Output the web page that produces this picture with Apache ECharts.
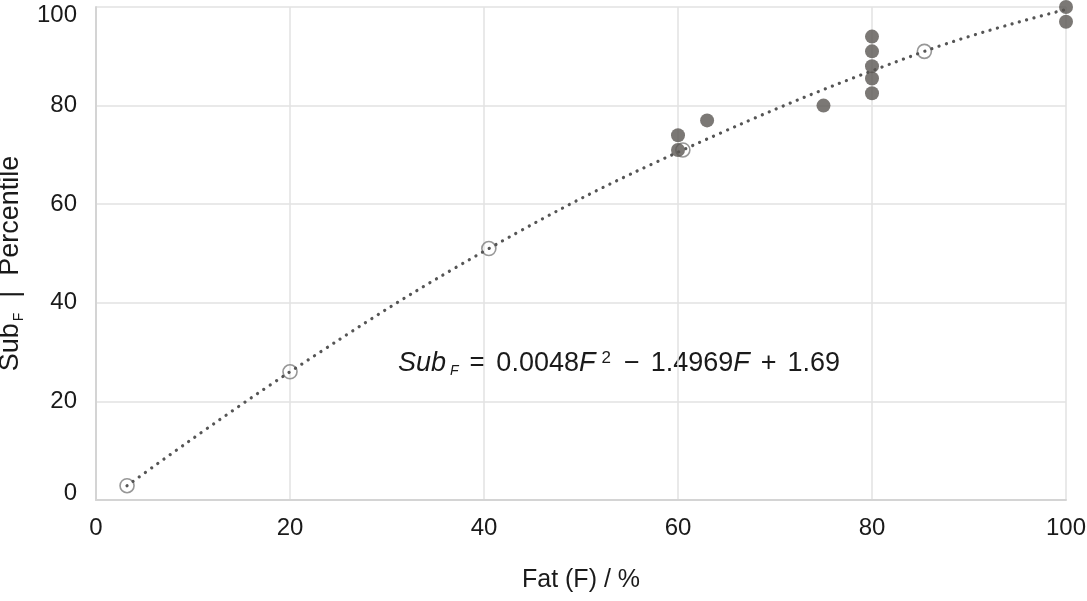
<!DOCTYPE html>
<html>
<head>
<meta charset="utf-8">
<script src="https://cdn.jsdelivr.net/npm/echarts@6/dist/echarts.min.js"></script>
<style>
  html, body { margin: 0; padding: 0; background: #fff; }
  #chart { width: 1087px; height: 601px; }
</style>
</head>
<body>
<div id="chart"></div>
<script>
// measured points (filled)
const obsFat = [60, 60, 63, 75, 80, 80, 80, 80, 80, 100, 100];
const obsSub = [74, 71, 77, 80, 94, 91, 88, 85.5, 82.5, 100, 97];

// fitted points (open circles)
const fitFat = [3.2, 20, 40.5, 60.5, 85.4];
const fitSub = [2.9, 26, 51, 71, 91];

// dotted trend line
const trendFat = [3.2, 20, 40.5, 60.5, 85.4, 100];
const trendSub = [2.9, 26, 51, 71, 91, 99.5];

const xTicks = [0, 20, 40, 60, 80, 100];
const yTicks = [0, 20, 40, 60, 80, 100];

const FONT = "'Liberation Sans', Arial, Helvetica, sans-serif";
const INK = '#1a1a1a';
const pairs = (xs, ys) => xs.map((x, i) => [x, ys[i]]);

const chart = echarts.init(document.getElementById('chart'));

const option = {
  animation: false,
  backgroundColor: '#fff',
  textStyle: { fontFamily: FONT },
  grid: { left: 96, right: 21, top: 7, bottom: 101, outerBoundsMode: 'none', containLabel: false },
  xAxis: {
    type: 'value',
    min: xTicks[0],
    max: xTicks[xTicks.length - 1],
    interval: xTicks[1] - xTicks[0],
    name: 'Fat (F) / %',
    nameLocation: 'middle',
    nameGap: 68,
    nameTextStyle: { fontSize: 25, color: INK, fontFamily: FONT },
    axisLine: { show: true, lineStyle: { color: '#d4d4d4', width: 2 } },
    axisTick: { show: false },
    axisLabel: { fontSize: 24, color: INK, margin: 16, fontFamily: FONT },
    splitLine: { show: true, lineStyle: { color: '#e2e2e2', width: 1.5 } }
  },
  yAxis: {
    type: 'value',
    min: yTicks[0],
    max: yTicks[yTicks.length - 1],
    interval: yTicks[1] - yTicks[0],
    name: '{a|Sub}{s|F}{a|  |  Percentile}',
    nameLocation: 'middle',
    nameGap: 70,
    nameTextStyle: {
      fontFamily: FONT,
      padding: [0, 20, 0, 0],
      rich: {
        a: { fontSize: 27, color: INK, fontFamily: FONT },
        s: { fontSize: 14, color: INK, fontFamily: FONT, padding: [16, 0, 0, 2] }
      }
    },
    axisLine: { show: true, lineStyle: { color: '#d4d4d4', width: 2 } },
    axisTick: { show: false },
    axisLabel: {
      fontSize: 24, color: INK, margin: 19, fontFamily: FONT,
      // end labels sit a little inside the plot, as in the original
      formatter: v => v === yTicks[0] ? '{lo|' + v + '}' : v === yTicks[yTicks.length - 1] ? '{hi|' + v + '}' : String(v),
      rich: {
        lo: { fontSize: 24, color: INK, fontFamily: FONT, padding: [0, 0, 13, 0] },
        hi: { fontSize: 24, color: INK, fontFamily: FONT, padding: [16, 0, 0, 0] }
      }
    },
    splitLine: { show: true, lineStyle: { color: '#e2e2e2', width: 1.5 } }
  },
  graphic: [{
    type: 'text',
    left: 398,
    top: 350,
    style: {
      text: '{i|Sub}{s|F}{o|=}{n|0.0048}{i|F}{p|2}{o|−}{n|1.4969}{i|F}{o|+}{n|1.69}',
      rich: {
        i: { fontSize: 27, fontStyle: 'italic', fill: INK, fontFamily: FONT },
        n: { fontSize: 27, fill: INK, fontFamily: FONT },
        o: { fontSize: 27, fill: INK, fontFamily: FONT, padding: [0, 11, 0, 11] },
        s: { fontSize: 14, fontStyle: 'italic', fill: INK, fontFamily: FONT, padding: [15, 0, 0, 4] },
        p: { fontSize: 17, fill: INK, fontFamily: FONT, padding: [0, 2, 10, 6] }
      }
    }
  }],
  series: [
    {
      name: 'fit',
      type: 'scatter',
      data: pairs(fitFat, fitSub),
      symbol: 'circle',
      symbolSize: 14,
      itemStyle: { color: 'rgba(255,255,255,0)', borderColor: '#7d7d7d', borderWidth: 1.6 },
      z: 2
    },
    {
      name: 'trend',
      type: 'line',
      data: pairs(trendFat, trendSub),
      smooth: 0.4,
      symbol: 'none',
      lineStyle: { color: '#555', width: 3.2, type: [0.1, 7.5], cap: 'round' },
      z: 3
    },
    {
      name: 'measured',
      type: 'scatter',
      data: pairs(obsFat, obsSub),
      symbol: 'circle',
      symbolSize: 14,
      itemStyle: { color: '#5a5653' },
      z: 4
    }
  ]
};

chart.setOption(option);
</script>
</body>
</html>
